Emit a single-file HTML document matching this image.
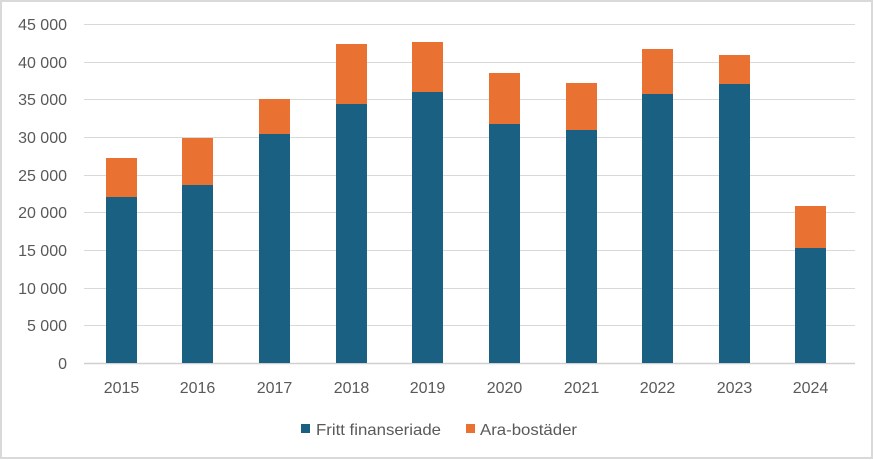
<!DOCTYPE html>
<html><head><meta charset="utf-8"><style>
body{margin:0;background:#fff}
svg{display:block;font-family:"Liberation Sans",sans-serif}
</style></head><body>
<svg width="873" height="460" xmlns="http://www.w3.org/2000/svg">
<rect x="1" y="1" width="871" height="457" fill="#fff" stroke="#d9d9d9" stroke-width="2"/>
<g stroke="#d9d9d9" stroke-width="1">
<line x1="84" x2="855" y1="24.5" y2="24.5"/>
<line x1="84" x2="855" y1="62.5" y2="62.5"/>
<line x1="84" x2="855" y1="99.5" y2="99.5"/>
<line x1="84" x2="855" y1="137.5" y2="137.5"/>
<line x1="84" x2="855" y1="175.5" y2="175.5"/>
<line x1="84" x2="855" y1="212.5" y2="212.5"/>
<line x1="84" x2="855" y1="250.5" y2="250.5"/>
<line x1="84" x2="855" y1="288.5" y2="288.5"/>
<line x1="84" x2="855" y1="325.5" y2="325.5"/>
</g>
<line x1="84" x2="855" y1="363.5" y2="363.5" stroke="#d0d0d0" stroke-width="1.5"/>
<g font-size="16" fill="#595959" text-anchor="end">
<text x="67" y="30">45 000</text>
<text x="67" y="68">40 000</text>
<text x="67" y="105">35 000</text>
<text x="67" y="143">30 000</text>
<text x="67" y="181">25 000</text>
<text x="67" y="218">20 000</text>
<text x="67" y="256">15 000</text>
<text x="67" y="294">10 000</text>
<text x="67" y="331">5 000</text>
<text x="67" y="369">0</text>
</g>
<g>
<rect x="106" y="197" width="31" height="166" fill="#196083"/><rect x="106" y="158" width="31" height="39" fill="#e97132"/>
<rect x="182" y="185" width="31" height="178" fill="#196083"/><rect x="182" y="138" width="31" height="47" fill="#e97132"/>
<rect x="259" y="134" width="31" height="229" fill="#196083"/><rect x="259" y="99" width="31" height="35" fill="#e97132"/>
<rect x="336" y="104" width="31" height="259" fill="#196083"/><rect x="336" y="44" width="31" height="60" fill="#e97132"/>
<rect x="412" y="92" width="31" height="271" fill="#196083"/><rect x="412" y="42" width="31" height="50" fill="#e97132"/>
<rect x="489" y="124" width="31" height="239" fill="#196083"/><rect x="489" y="73" width="31" height="51" fill="#e97132"/>
<rect x="566" y="130" width="31" height="233" fill="#196083"/><rect x="566" y="83" width="31" height="47" fill="#e97132"/>
<rect x="642" y="94" width="31" height="269" fill="#196083"/><rect x="642" y="49" width="31" height="45" fill="#e97132"/>
<rect x="719" y="84" width="31" height="279" fill="#196083"/><rect x="719" y="55" width="31" height="29" fill="#e97132"/>
<rect x="795" y="248" width="31" height="115" fill="#196083"/><rect x="795" y="206" width="31" height="42" fill="#e97132"/>
</g>
<g font-size="16" fill="#595959" text-anchor="middle">
<text x="121.5" y="393">2015</text>
<text x="197.5" y="393">2016</text>
<text x="274.5" y="393">2017</text>
<text x="351.5" y="393">2018</text>
<text x="427.5" y="393">2019</text>
<text x="504.5" y="393">2020</text>
<text x="581.5" y="393">2021</text>
<text x="657.5" y="393">2022</text>
<text x="734.5" y="393">2023</text>
<text x="810.5" y="393">2024</text>
</g>
<rect x="301" y="424" width="9" height="9" fill="#196083"/>
<text x="316" y="435" font-size="16" fill="#595959" textLength="125" lengthAdjust="spacingAndGlyphs">Fritt finanseriade</text>
<rect x="466" y="424" width="9" height="9" fill="#e97132"/>
<text x="480" y="435" font-size="16" fill="#595959" textLength="97" lengthAdjust="spacingAndGlyphs">Ara-bostäder</text>
</svg>
</body></html>
